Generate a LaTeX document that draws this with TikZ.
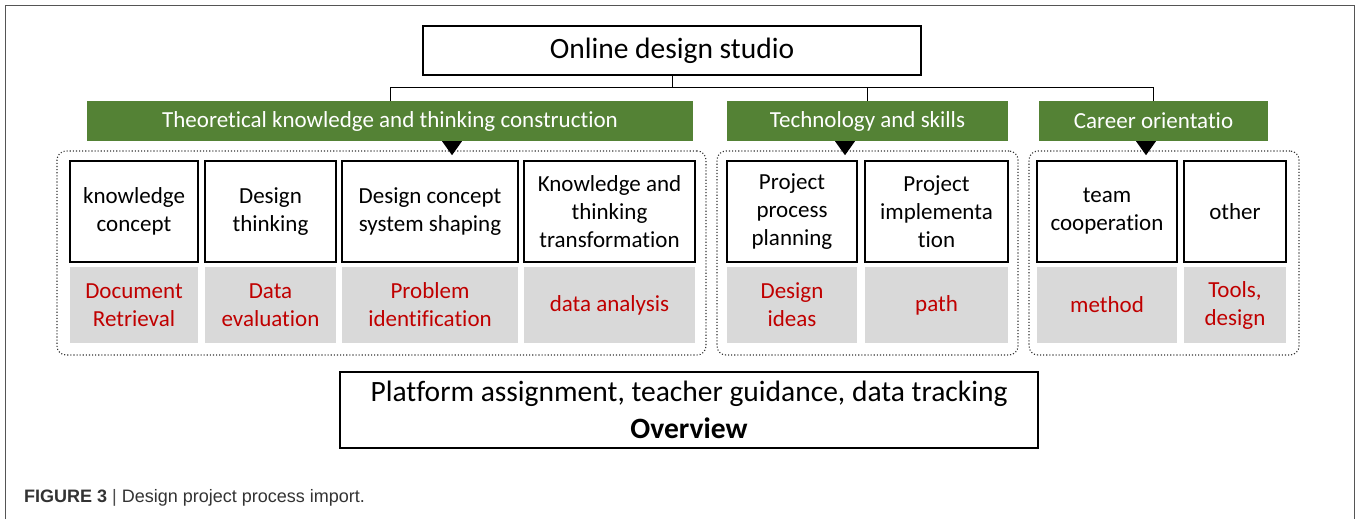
\documentclass[tikz,border=0pt]{standalone}
\usepackage{fontspec}
\setmainfont{Carlito}[Ligatures=NoCommon]
\newfontfamily\capfont{Liberation Sans}
\usetikzlibrary{calc}
\definecolor{grn}{HTML}{548235}
\definecolor{gry}{HTML}{D9D9D9}
\definecolor{rd}{HTML}{C00000}
\definecolor{frm}{HTML}{555555}
\begin{document}
\begin{tikzpicture}[x=1pt,y=-1pt,
  title/.style={draw=black,line width=1.6pt,fill=white,inner sep=0pt,font=\fontsize{29.5}{34}\selectfont},
  green/.style={fill=grn,draw=none,inner sep=0pt,minimum height=40pt,text=white,font=\fontsize{23}{26}\selectfont},
  wbox/.style={draw=black,line width=1.8pt,fill=white,inner sep=0pt,minimum height=101pt,align=center,font=\fontsize{23}{28}\selectfont},
  gbox/.style={fill=gry,draw=none,inner sep=0pt,minimum height=76pt,align=center,text=rd,font=\fontsize{23}{28}\selectfont},
  grp/.style={draw=black!80,dotted,line width=1.1pt,rounded corners=9pt,inner sep=0pt,minimum height=204pt},
  conn/.style={draw=black,line width=0.8pt},
  tri/.style={fill=black,draw=none}]
\useasboundingbox (0,0) rectangle (1359,519);
\fill[white] (0,0) rectangle (1359,519);
\draw[frm,line width=1pt] (5,519) -- (5,6) -- (1354,6) -- (1354,519);
% title
\node[title,minimum width=498pt,minimum height=49pt] (title) at (672,50.5) {Online design studio};
% green headers
\node[green,minimum width=606pt] (g1) at (390,121) {Theoretical knowledge and thinking construction};
\node[green,minimum width=281pt] (g2) at (867.5,121) {Technology and skills};
\node[green,minimum width=229pt] (g3) at (1153.5,121) {Career orientatio};
\coordinate (bus) at (0,87);
\draw[conn] (title.south) -- (title.south |- bus);
\draw[conn] (g1.north) -- (g1.north |- bus) -| (g3.north);
\draw[conn] (g2.north) -- (g2.north |- bus);
% containers
\node[grp,minimum width=649pt] (c1) at (381.5,253) {};
\node[grp,minimum width=301pt] (c2) at (867.5,253) {};
\node[grp,minimum width=270pt] (c3) at (1164,253) {};
% triangles
\fill[tri] ($(g1.south)+(52,0)$) -- ++(20,0) -- ++(-10,14) -- cycle;
\fill[tri] ($(g2.south)+(-32.5,0)$) -- ++(20,0) -- ++(-10,14) -- cycle;
\fill[tri] ($(g3.south)+(-17.5,0)$) -- ++(20,0) -- ++(-10,14) -- cycle;
% white boxes
\node[wbox,minimum width=128pt] (w1) at (134,211.5) {knowledge\\concept};
\node[wbox,minimum width=131pt] (w2) at (270.5,211.5) {Design\\thinking};
\node[wbox,minimum width=176pt] (w3) at (430,211.5) {Design concept\\system shaping};
\node[wbox,minimum width=171pt] (w4) at (609.5,211.5) {Knowledge and\\thinking\\transformation};
\node[wbox,minimum width=130pt] (w5) at (792,211.5) {Project\\process\\planning};
\node[wbox,minimum width=143pt] (w6) at (936.5,211.5) {Project\\implementa\\tion};
\node[wbox,minimum width=140pt] (w7) at (1107,211.5) {team\\cooperation};
\node[wbox,minimum width=102pt] (w8) at (1235,211.5) {other};
% gray boxes
\node[gbox,minimum width=128pt] (r1) at (134,305) {Document\\Retrieval};
\node[gbox,minimum width=131pt] (r2) at (270.5,305) {Data\\evaluation};
\node[gbox,minimum width=176pt] (r3) at (430,305) {Problem\\identification};
\node[gbox,minimum width=171pt] (r4) at (609.5,305) {data analysis};
\node[gbox,minimum width=130pt] (r5) at (792,305) {Design\\ideas};
\node[gbox,minimum width=143pt] (r6) at (936.5,305) {path};
\node[gbox,minimum width=140pt] (r7) at (1107,305) {method};
\node[gbox,minimum width=102pt] (r8) at (1235,305) {Tools,\\design};
% bottom box
\node[draw=black,line width=1.6pt,fill=white,inner sep=0pt,minimum width=698pt,minimum height=76pt,align=center,font=\fontsize{29.5}{37}\selectfont] (ov) at (689,410) {Platform assignment, teacher guidance, data tracking\\\textbf{Overview}};
% caption
\node[anchor=west,inner sep=0pt,font=\capfont\fontsize{18}{20}\selectfont,text=black!80] (cap) at (24,498) {\textbf{FIGURE 3} {\color{black!70}|} Design project process import.};
\end{tikzpicture}
\end{document}
